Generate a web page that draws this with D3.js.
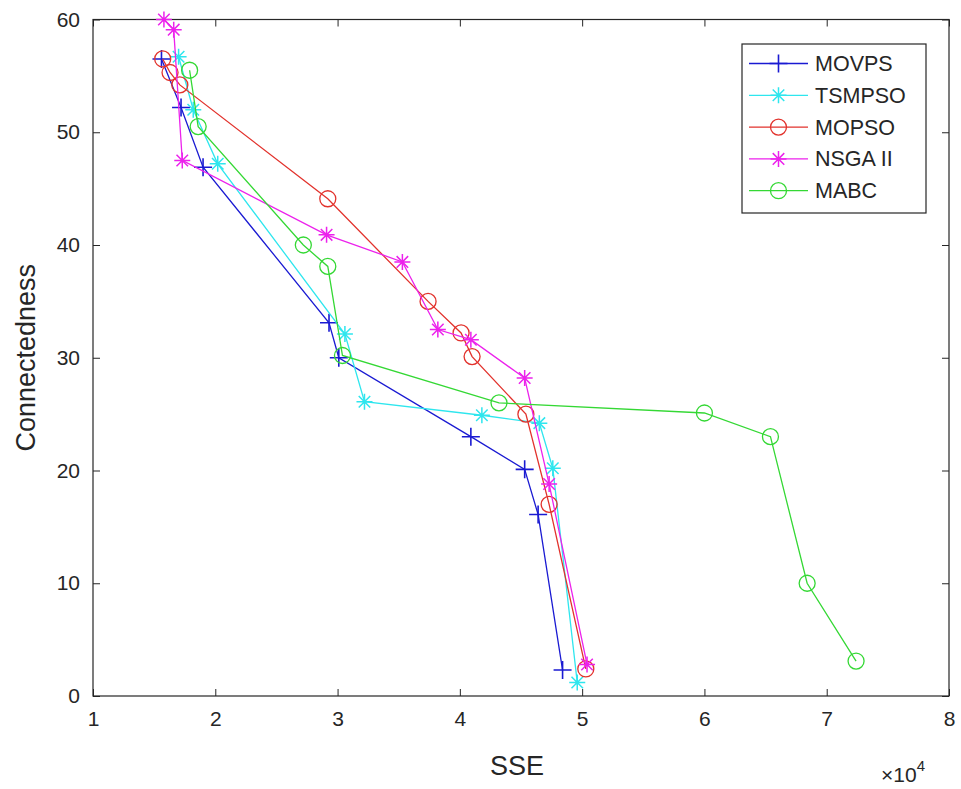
<!DOCTYPE html>
<html>
<head>
<meta charset="utf-8">
<script src="https://cdn.jsdelivr.net/npm/d3@7"></script>
<style>
  body { margin: 0; background: #fff; }
  svg { display: block; font-family: "Liberation Sans", Arial, sans-serif; }
  .axis path, .axis line { stroke: #262626; }
  .axis text { fill: #262626; font-size: 21px; }
</style>
</head>
<body>
<svg></svg>
<script>
const seriesNames = ["MOVPS", "TSMPSO", "MOPSO", "NSGA II", "MABC"]

// SSE values are in units of 1e4
const movpsSSE = [1.56, 1.72, 1.90, 2.93, 3.01, 4.09, 4.53, 4.64, 4.84]
const movpsConn = [56.5, 52.2, 46.9, 33.1, 30.0, 23.0, 20.1, 16.1, 2.3]

const tsmpsoSSE = [1.70, 1.82, 2.02, 3.06, 3.22, 4.18, 4.65, 4.76, 4.96]
const tsmpsoConn = [56.7, 52.0, 47.2, 32.1, 26.1, 24.9, 24.2, 20.2, 1.2]

const mopsoSSE = [1.57, 1.63, 1.71, 2.92, 3.74, 4.01, 4.10, 4.54, 4.73, 5.03]
const mopsoConn = [56.5, 55.3, 54.2, 44.1, 35.0, 32.2, 30.1, 25.0, 17.0, 2.4]

const nsgaSSE = [1.58, 1.66, 1.73, 2.91, 3.53, 3.82, 4.09, 4.53, 4.73, 5.04]
const nsgaConn = [60.0, 59.1, 47.5, 40.9, 38.5, 32.5, 31.6, 28.2, 18.8, 2.8]

const mabcSSE = [1.79, 1.86, 2.72, 2.92, 3.04, 4.32, 6.00, 6.54, 6.84, 7.24]
const mabcConn = [55.5, 50.5, 40.0, 38.1, 30.2, 26.0, 25.1, 23.0, 10.0, 3.1]

const xTicks = [1, 2, 3, 4, 5, 6, 7, 8]
const yTicks = [0, 10, 20, 30, 40, 50, 60]

const width = 961, height = 789
const margin = { top: 19.5, right: 12, bottom: 93, left: 93 }
const tickLen = 7

const svg = d3.select('svg').attr('width', width).attr('height', height)

const x = d3.scaleLinear().domain([1, 8]).range([margin.left, width - margin.right])
const y = d3.scaleLinear().domain([0, 60]).range([height - margin.bottom, margin.top])

const series = [
    { name: seriesNames[0], xs: movpsSSE, ys: movpsConn, color: '#1a1ad2', marker: 'plus' },
    { name: seriesNames[1], xs: tsmpsoSSE, ys: tsmpsoConn, color: '#2ee6ee', marker: 'star' },
    { name: seriesNames[2], xs: mopsoSSE, ys: mopsoConn, color: '#e2322c', marker: 'circle' },
    { name: seriesNames[3], xs: nsgaSSE, ys: nsgaConn, color: '#ec22ec', marker: 'star' },
    { name: seriesNames[4], xs: mabcSSE, ys: mabcConn, color: '#34d834', marker: 'circle' }
]

// marker shapes, MATLAB style
function drawMarker(g, type, cx, cy, color) {
    if (type === 'circle') {
        g.append('circle').attr('cx', cx).attr('cy', cy).attr('r', 8)
            .attr('fill', 'none').attr('stroke', color).attr('stroke-width', 1.3)
    } else if (type === 'plus') {
        const s = 9
        g.append('path').attr('d', `M${cx - s},${cy}H${cx + s}M${cx},${cy - s}V${cy + s}`)
            .attr('stroke', color).attr('stroke-width', 1.6).attr('fill', 'none')
    } else {
        const s = 8, d = s * 0.72
        g.append('path')
            .attr('d', `M${cx - s},${cy}H${cx + s}M${cx},${cy - s}V${cy + s}` +
                `M${cx - d},${cy - d}L${cx + d},${cy + d}M${cx - d},${cy + d}L${cx + d},${cy - d}`)
            .attr('stroke', color).attr('stroke-width', 1.5).attr('fill', 'none')
    }
}

// Plot box with ticks on all sides
const xAxis = svg.append('g').attr('class', 'axis')
    .attr('transform', `translate(0, ${y(0)})`)
    .call(d3.axisBottom(x).tickValues(xTicks).tickSize(tickLen).tickFormat(d3.format('d')))
xAxis.selectAll('.tick line').attr('y2', -tickLen)
xAxis.selectAll('.tick text').attr('y', 15)

svg.append('g').attr('class', 'axis')
    .attr('transform', `translate(0, ${y(60)})`)
    .call(d3.axisBottom(x).tickValues(xTicks).tickSize(tickLen).tickFormat(''))

const yAxis = svg.append('g').attr('class', 'axis')
    .attr('transform', `translate(${x(1)}, 0)`)
    .call(d3.axisLeft(y).tickValues(yTicks).tickSize(tickLen).tickFormat(d3.format('d')))
yAxis.selectAll('.tick line').attr('x2', tickLen)
yAxis.selectAll('.tick text').attr('x', -13)

svg.append('g').attr('class', 'axis')
    .attr('transform', `translate(${x(8)}, 0)`)
    .call(d3.axisLeft(y).tickValues(yTicks).tickSize(tickLen).tickFormat(''))

svg.selectAll('.axis .domain').remove()
svg.append('rect')
    .attr('x', x(1)).attr('y', y(60))
    .attr('width', x(8) - x(1)).attr('height', y(0) - y(60))
    .attr('fill', 'none').attr('stroke', '#262626').attr('stroke-width', 1.2)

// Axis labels
svg.append('text').attr('x', (x(1) + x(8)) / 2 - 4).attr('y', 775)
    .attr('text-anchor', 'middle').attr('font-size', 27).attr('fill', '#262626').text('SSE')
svg.append('text').attr('transform', `translate(35, ${(y(0) + y(60)) / 2}) rotate(-90)`)
    .attr('text-anchor', 'middle').attr('font-size', 27).attr('fill', '#262626').text('Connectedness')
const expo = svg.append('text').attr('x', 881).attr('y', 782).attr('font-size', 21).attr('fill', '#262626')
expo.append('tspan').text('\u00d710')
expo.append('tspan').attr('dy', -11).attr('font-size', 15).text('4')

// Lines and markers
const line = d3.line().x(d => x(d[0])).y(d => y(d[1]))
const plot = svg.append('g')
series.forEach(s => {
    const pts = s.xs.map((v, i) => [v, s.ys[i]])
    plot.append('path').datum(pts).attr('d', line)
        .attr('fill', 'none').attr('stroke', s.color).attr('stroke-width', 1.3)
    const mg = plot.append('g')
    pts.forEach(p => drawMarker(mg, s.marker, x(p[0]), y(p[1]), s.color))
})

// Legend
const legend = svg.append('g')
legend.append('rect').attr('x', 742).attr('y', 44).attr('width', 184).attr('height', 169)
    .attr('fill', '#fff').attr('stroke', '#262626').attr('stroke-width', 1.2)
series.forEach((s, i) => {
    const ly = 63.5 + i * 31.8
    legend.append('line').attr('x1', 749).attr('x2', 808).attr('y1', ly).attr('y2', ly)
        .attr('stroke', s.color).attr('stroke-width', 1.3)
    drawMarker(legend, s.marker, 778.5, ly, s.color)
    legend.append('text').attr('x', 815).attr('y', ly + 7.5).attr('font-size', 21.5)
        .attr('fill', '#262626').text(s.name)
})
</script>
</body>
</html>
